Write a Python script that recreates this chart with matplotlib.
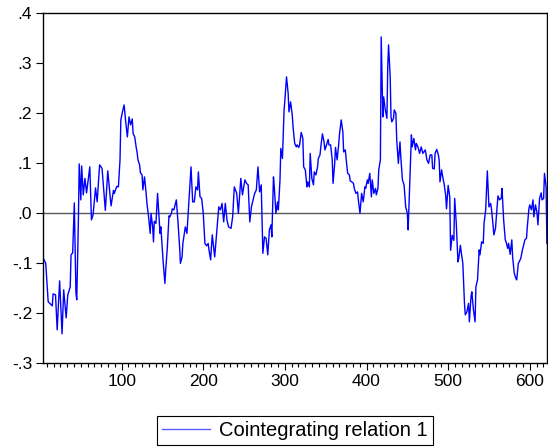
import numpy as np
import matplotlib
matplotlib.use("Agg")
import matplotlib.pyplot as plt
from matplotlib.ticker import MultipleLocator

obs = [4, 7, 10, 12, 15, 16, 19, 21, 24, 27, 29, 32, 34, 37, 38, 40, 42, 44, 45, 47,
       48, 50, 51, 53, 55, 57, 61, 63, 65, 68, 70, 73, 76, 80, 83, 87, 90, 91, 94, 96,
       98, 99, 101, 103, 105, 107, 109, 111, 113, 114, 116, 118, 119, 120, 122, 123, 125, 126, 128, 130,
       131, 133, 135, 136, 138, 139, 140, 142, 144, 145, 147, 148, 150, 151, 153, 154, 156, 158, 159, 161,
       162, 164, 166, 167, 169, 171, 172, 174, 175, 178, 180, 182, 185, 187, 189, 191, 193, 194, 196, 198,
       200, 202, 204, 206, 207, 209, 211, 214, 216, 219, 221, 223, 225, 227, 229, 231, 234, 236, 238, 241,
       243, 246, 248, 251, 253, 255, 257, 259, 261, 263, 265, 267, 269, 271, 273, 275, 277, 279, 281, 283,
       284, 286, 287, 289, 291, 292, 294, 295, 297, 299, 300, 302, 304, 305, 307, 309, 310, 312, 314, 315,
       317, 318, 320, 322, 323, 325, 327, 328, 330, 331, 333, 335, 336, 338, 340, 341, 343, 344, 346, 348,
       349, 351, 353, 354, 356, 358, 359, 361, 362, 364, 366, 367, 369, 371, 372, 374, 376, 377, 379, 380,
       382, 384, 385, 387, 389, 390, 392, 394, 396, 398, 399, 401, 402, 404, 406, 407, 409, 411, 412, 414,
       415, 417, 418, 420, 421, 423, 425, 426, 427, 429, 430, 431, 433, 434, 436, 437, 439, 441, 442, 444,
       446, 448, 450, 451, 452, 454, 455, 456, 458, 460, 461, 463, 465, 467, 469, 472, 474, 476, 478, 480,
       481, 483, 484, 486, 488, 489, 490, 492, 494, 495, 497, 498, 500, 502, 503, 505, 507, 508, 510, 512,
       513, 515, 516, 518, 520, 521, 523, 525, 526, 528, 529, 531, 533, 534, 536, 538, 539, 541, 543, 544,
       546, 548, 550, 552, 553, 555, 556, 558, 560, 561, 563, 565, 566, 568, 570, 571, 573, 574, 576, 578,
       579, 581, 583, 584, 586, 587, 589, 591, 592, 594, 596, 597, 599, 600, 602, 604, 605, 607, 609, 610,
       612, 614, 615, 617, 618, 620, 621]
values = [-0.090, -0.100, -0.177, -0.180, -0.185, -0.161, -0.163, -0.233, -0.135, -0.241,
          -0.153, -0.209, -0.163, -0.147, -0.083, -0.079, 0.021, -0.159, -0.173, -0.013,
          0.099, 0.027, 0.095, 0.037, 0.070, 0.041, 0.093, -0.013, -0.003, 0.051,
          0.023, 0.097, 0.090, 0.006, 0.085, 0.015, 0.046, 0.040, 0.054, 0.053,
          0.107, 0.187, 0.203, 0.217, 0.183, 0.153, 0.193, 0.177, 0.189, 0.160,
          0.153, 0.130, 0.121, 0.107, 0.097, 0.081, 0.077, 0.047, 0.073, 0.040,
          0.020, -0.007, -0.040, 0.000, -0.027, -0.057, -0.016, -0.020, 0.040, 0.013,
          -0.040, -0.027, -0.077, -0.100, -0.140, -0.113, -0.067, -0.005, -0.007, 0.000,
          0.009, 0.007, 0.020, 0.027, -0.017, -0.067, -0.100, -0.087, -0.060, -0.027,
          -0.040, 0.013, 0.093, 0.023, 0.023, 0.053, 0.047, 0.083, 0.033, 0.030,
          0.000, -0.060, -0.065, -0.060, -0.073, -0.093, -0.043, -0.087, -0.047, 0.013,
          0.007, 0.020, -0.017, 0.020, -0.013, -0.027, -0.030, -0.007, 0.053, 0.040,
          0.000, 0.070, 0.037, 0.067, 0.060, 0.057, -0.017, 0.013, 0.027, 0.040,
          0.047, 0.093, 0.043, 0.057, -0.080, -0.047, -0.050, -0.083, -0.033, -0.023,
          -0.047, 0.073, 0.053, 0.000, 0.023, 0.007, 0.067, 0.130, 0.110, 0.207,
          0.227, 0.273, 0.240, 0.203, 0.223, 0.197, 0.173, 0.140, 0.133, 0.137,
          0.132, 0.137, 0.162, 0.150, 0.093, 0.087, 0.053, 0.063, 0.053, 0.120,
          0.070, 0.057, 0.083, 0.077, 0.093, 0.110, 0.117, 0.133, 0.159, 0.143,
          0.127, 0.137, 0.148, 0.137, 0.137, 0.107, 0.060, 0.100, 0.132, 0.107,
          0.140, 0.160, 0.187, 0.163, 0.123, 0.127, 0.093, 0.080, 0.077, 0.065,
          0.063, 0.060, 0.050, 0.040, 0.043, 0.027, 0.000, 0.040, 0.023, 0.053,
          0.050, 0.067, 0.060, 0.080, 0.033, 0.067, 0.040, 0.050, 0.037, 0.050,
          0.087, 0.107, 0.353, 0.193, 0.233, 0.207, 0.190, 0.293, 0.337, 0.273,
          0.193, 0.183, 0.190, 0.207, 0.200, 0.147, 0.100, 0.143, 0.113, 0.067,
          0.057, 0.013, 0.000, -0.033, 0.013, 0.100, 0.157, 0.133, 0.150, 0.127,
          0.140, 0.133, 0.120, 0.133, 0.120, 0.127, 0.107, 0.100, 0.117, 0.117,
          0.090, 0.089, 0.120, 0.128, 0.117, 0.107, 0.063, 0.087, 0.067, 0.060,
          0.036, 0.009, 0.056, 0.033, -0.074, -0.044, -0.054, 0.030, -0.021, -0.097,
          -0.090, -0.064, -0.077, -0.100, -0.180, -0.203, -0.197, -0.180, -0.217, -0.167,
          -0.157, -0.193, -0.217, -0.147, -0.133, -0.073, -0.083, -0.057, -0.060, -0.020,
          0.007, 0.085, 0.013, 0.020, 0.010, -0.023, -0.043, -0.030, 0.013, 0.035,
          0.027, 0.030, 0.050, -0.013, -0.053, -0.057, -0.070, -0.060, -0.082, -0.053,
          -0.087, -0.120, -0.130, -0.133, -0.100, -0.097, -0.090, -0.073, -0.067, -0.053,
          -0.050, -0.027, 0.010, 0.017, 0.007, 0.027, -0.007, 0.017, 0.000, -0.023,
          0.030, 0.041, 0.027, 0.030, 0.080, 0.053, -0.060]

x_ticks = [100, 200, 300, 400, 500, 600]
y_ticks = [-0.3, -0.2, -0.1, 0.0, 0.1, 0.2, 0.3, 0.4]
y_labels = ["-.3", "-.2", "-.1", ".0", ".1", ".2", ".3", ".4"]
series_name = "Cointegrating relation 1"

plt.rcParams["font.family"] = ["Liberation Sans", "DejaVu Sans"]

fig = plt.figure(figsize=(5.48, 4.48), dpi=100)
ax = fig.add_axes([0.079, 0.189, 0.919, 0.781])

ax.axhline(0, color="#5a5a5a", linewidth=1.0, zorder=1)
ax.plot(obs, values, color="#0000ff", linewidth=1.0, zorder=2)

ax.set_xlim(obs[0], obs[-1])
ax.set_ylim(-0.3, 0.4)

ax.set_xticks(x_ticks)
ax.xaxis.set_minor_locator(MultipleLocator(100 / 12))
ax.set_yticks(y_ticks)
ax.set_yticklabels(y_labels)

ax.tick_params(axis="both", which="major", direction="out", labelsize=12.5,
               colors="black", top=False, right=False)
ax.tick_params(axis="x", which="major", length=5, width=0.8, pad=3)
ax.tick_params(axis="x", which="minor", length=3, width=0.8, top=False)
ax.tick_params(axis="y", which="major", length=5, width=0.8, pad=3)

for sp in ax.spines.values():
    sp.set_color("black")
    sp.set_linewidth(1.0)

leg_line = matplotlib.lines.Line2D([], [], color="#5a5aff", linewidth=1.0)
leg = fig.legend([leg_line], [series_name], loc="center",
                 bbox_to_anchor=(0.538, 0.04), fontsize=14.5, frameon=True,
                 fancybox=False, edgecolor="black", framealpha=1,
                 handlelength=2.4, borderpad=0.25, handletextpad=0.45,
                 borderaxespad=0)
leg.get_frame().set_linewidth(0.8)

fig.savefig("out.png", dpi=100)
